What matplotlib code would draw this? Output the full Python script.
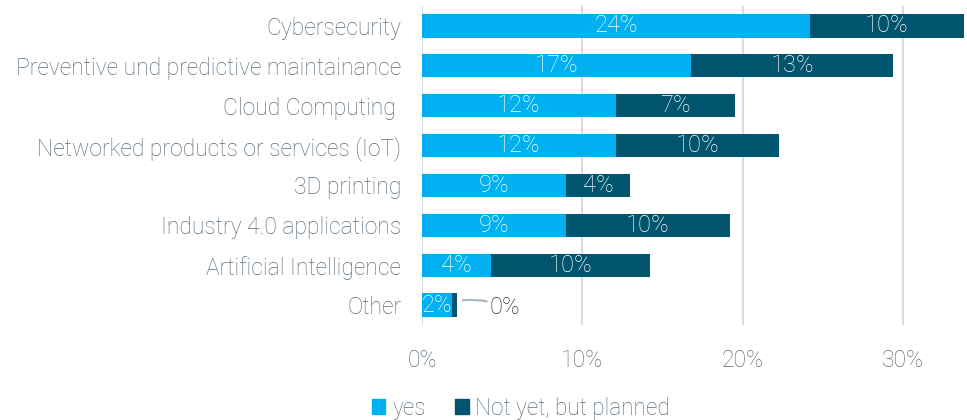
import matplotlib
matplotlib.use("Agg")
import matplotlib.pyplot as plt
from matplotlib.patches import Patch

categories = ["Cybersecurity", "Preventive und predictive maintainance", "Cloud Computing ",
              "Networked products or services (IoT)", "3D printing", "Industry 4.0 applications",
              "Artificial Intelligence", "Other"]
yes_vals = [24.2, 16.8, 12.1, 12.1, 9.0, 9.0, 4.3, 1.9]
planned_vals = [9.6, 12.6, 7.4, 10.2, 4.0, 10.2, 9.9, 0.3]
yes_labels = ["24%", "17%", "12%", "12%", "9%", "9%", "4%", "2%"]
planned_labels = ["10%", "13%", "7%", "10%", "4%", "10%", "10%", "0%"]
xticks = [0, 10, 20, 30]
xtick_labels = ["0%", "10%", "20%", "30%"]
series_names = ["yes", "Not yet, but planned"]

c_yes = "#00B0F0"
c_plan = "#00546E"
txt = "#5B6E7C"

plt.rcParams['font.family'] = ['Roboto', 'DejaVu Sans']
FW = 'light'

fig = plt.figure(figsize=(9.67, 4.2), dpi=100)
ax = fig.add_axes([422/967, 1 - 325/420, (967 - 422)/967, (325 - 6)/420])

y = list(range(len(categories)))
h = 0.58
ax.barh(y, yes_vals, height=h, color=c_yes, zorder=3)
ax.barh(y, planned_vals, left=yes_vals, height=h, color=c_plan, zorder=3)

for i in y:
    ax.text(yes_vals[i] / 2, i, yes_labels[i], ha='center', va='center', color='white',
            fontsize=17, fontweight=FW, zorder=4)
    if planned_vals[i] >= 1:
        ax.text(yes_vals[i] + planned_vals[i] / 2, i, planned_labels[i], ha='center', va='center',
                color='white', fontsize=17, fontweight=FW, zorder=4)
    else:
        end = yes_vals[i] + planned_vals[i]
        ax.annotate(planned_labels[i], xy=(end, i - 0.1), xytext=(end + 2.0, i + 0.05),
                    ha='left', va='center', color='#333333', fontsize=17, fontweight=FW,
                    arrowprops=dict(arrowstyle='-', color='#A8B4BC', lw=1.5,
                                    connectionstyle="arc3,rad=0.15", shrinkA=0, shrinkB=4),
                    zorder=4)

ax.set_xlim(0, 34)
ax.set_ylim(len(categories) - 0.5, -0.5)
ax.set_xticks(xticks)
ax.set_xticklabels(xtick_labels)
ax.set_yticks(y)
ax.set_yticklabels(categories)
for sp in ax.spines.values():
    sp.set_visible(False)
ax.tick_params(axis='x', length=0, pad=17, labelsize=16.5, labelcolor=txt)
ax.tick_params(axis='y', length=0, pad=15, labelsize=16.5, labelcolor=txt)
for lab in ax.get_xticklabels() + ax.get_yticklabels():
    lab.set_fontweight(FW)
ax.xaxis.grid(True, color='#D6DEE3', linewidth=1.5, zorder=0)
ax.set_axisbelow(True)

handles = [Patch(color=c_yes), Patch(color=c_plan)]
leg = fig.legend(handles, series_names, loc='center', bbox_to_anchor=(521/967, 1 - 408/420),
                 ncol=2, frameon=False, handlelength=0.6, handleheight=0.6, handletextpad=0.3,
                 columnspacing=1.3, prop={'size': 16.3, 'weight': FW})
for t in leg.get_texts():
    t.set_color(txt)

fig.savefig("out.png", dpi=100)
